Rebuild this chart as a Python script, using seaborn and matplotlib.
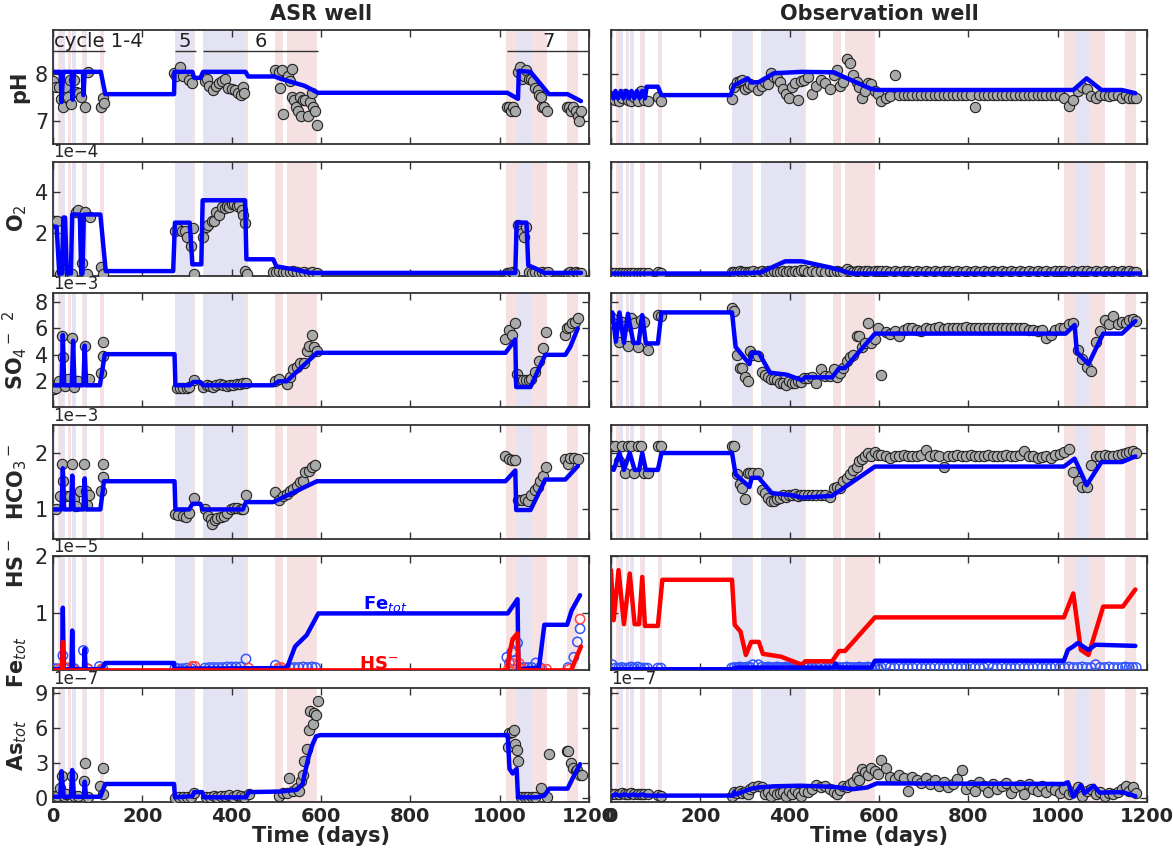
import numpy as np
import matplotlib
matplotlib.use("Agg")
import matplotlib.pyplot as plt
import seaborn as sns

# ---------------- shading periods / cycles (days) ----------------
blue_start = [0, 18, 43, 71, 272, 335, 1038]
blue_end = [5, 27, 52, 77, 313, 430, 1070]
red_start = [12, 33, 64, 105, 313, 430, 496, 524, 1015, 1070, 1150]
red_end = [18, 41, 71, 115, 318, 437, 514, 591, 1038, 1107, 1176]
cycle_labels = ["cycle 1-4", "5", "6", "7"]
cycle_start = [0, 272, 336, 1017]
cycle_end = [117, 320, 593, 1200]

# ---------------- ASR well ----------------
asr_ph_t = [0, 17, 19, 23, 42, 44, 47, 67, 68, 71, 107, 117, 271, 272, 312, 316, 330, 336, 431, 437,
            496, 510, 563, 593, 1017, 1041, 1043, 1069, 1110, 1152, 1182]
asr_ph_v = [8.05, 8.05, 7.4, 8.05, 8.05, 7.45, 8.05, 8.05, 7.55, 8.05, 8.05, 7.57, 7.57, 8.05, 8.05, 7.92, 7.92, 8.05, 8.05, 7.95,
            7.95, 7.9, 7.75, 7.6, 7.6, 7.47, 8.07, 8.05, 7.57, 7.57, 7.42]
asr_ph_obs_t = [0, 6, 13, 17, 22, 26, 33, 37, 41, 48, 52, 59, 62, 72, 78, 108, 113, 115,
                270, 275, 285, 290, 305, 312,
                340, 345, 350, 358, 365, 372, 378, 385, 392, 400, 408, 415, 420, 425, 428,
                497, 505, 508, 513, 516, 525, 530, 534, 536, 540, 543, 548, 552, 555, 560, 565, 570, 575, 580, 583, 587, 590,
                1017, 1022, 1025, 1030, 1035, 1040, 1045, 1050, 1055, 1060, 1065, 1070, 1075, 1080, 1085, 1088, 1092, 1095, 1100, 1105,
                1150, 1155, 1160, 1165, 1170, 1175, 1178, 1182]
asr_ph_obs_v = [7.85, 7.73, 7.73, 7.47, 7.3, 7.72, 7.5, 7.88, 7.36, 7.88, 7.62, 7.6, 7.5, 7.3, 8.04, 7.3, 7.48, 7.38,
                8.03, 7.95, 8.15, 7.95, 7.88, 7.8,
                7.85, 7.9, 7.75, 7.65, 7.75, 7.8, 7.85, 7.9, 7.7, 7.68, 7.65, 7.6, 7.55, 7.72, 7.6,
                8.1, 8.05, 7.7, 8.08, 7.15, 7.95, 7.85, 8.12, 7.5, 7.45, 7.3, 7.2, 7.5, 7.1, 7.45, 7.45, 7.1, 7.4, 7.6, 7.3, 7.2, 6.9,
                7.3, 7.3, 7.2, 7.3, 7.2, 8.05, 8.15, 7.9, 7.95, 8.1, 7.9, 7.9, 7.85, 7.7, 7.65, 7.55, 7.5, 7.3, 7.3, 7.2,
                7.3, 7.3, 7.2, 7.3, 7.2, 7.1, 7.0, 7.2]

asr_o2_t = [0, 8, 14, 20, 23, 27, 31, 40, 43, 60, 63, 66, 69, 106, 118, 269, 273, 306, 312, 332, 335, 430, 433, 493,
            500, 540, 576, 1017, 1035, 1038, 1060, 1064, 1080, 1100, 1182]
asr_o2_v = [2.3, 2.3, 0.0, 0.0, 2.75, 2.75, 0.0, 0.0, 2.9, 2.9, 0.0, 0.0, 2.9, 2.9, 0.12, 0.12, 2.5, 2.5, 0.45, 0.45, 3.6, 3.6, 0.7, 0.7,
            0.35, 0.2, 0.03, 0.03, 0.03, 2.5, 2.5, 0.4, 0.25, 0.03, 0.03]
asr_o2_obs_t = [4, 8, 15, 22, 39, 43, 52, 56, 64, 71, 75, 82, 108, 112,
                273, 280, 288, 295, 299, 310, 314, 316,
                336, 342, 347, 355, 360, 366, 372, 378, 384, 389, 395, 400, 405, 411, 416, 422, 426, 430, 430, 434,
                493, 500, 507, 515, 522, 530, 538, 546, 555, 563, 572, 580, 590,
                1017, 1022, 1027, 1031, 1040, 1045, 1050, 1055, 1060, 1066, 1072, 1080, 1088, 1095, 1102, 1108,
                1152, 1158, 1164, 1170, 1176, 1182]
asr_o2_obs_v = [2.6, 2.6, 0.0, 0.0, 0.0, 0.0, 3.0, 3.1, 0.5, 3.0, 0.0, 2.8, 0.3, 0.0,
                2.1, 2.2, 2.1, 2.1, 1.8, 1.35, 2.25, 0.0,
                1.8, 2.3, 2.4, 2.6, 2.6, 3.0, 2.9, 3.25, 3.2, 3.3, 3.25, 3.4, 3.4, 3.3, 3.35, 3.1, 2.9, 2.5, 0.1, 0.0,
                0.05, 0.05, 0.1, 0.05, 0.08, 0.05, 0.1, 0.05, 0.03, 0.05, 0.03, 0.05, 0.03,
                0.03, 0.03, 0.05, 0.03, 2.4, 2.1, 2.0, 1.8, 2.3, 0.05, 0.03, 0.05, 0.03, 0.05, 0.03, 0.05,
                0.03, 0.05, 0.03, 0.05, 0.03, 0.03]

asr_so4_t = [0, 19, 22, 25, 42, 45, 48, 68, 71, 74, 105, 116, 272, 274, 306, 314, 330, 336, 493, 505,
             523, 591, 1013, 1035, 1037, 1069, 1102, 1147, 1158, 1175]
asr_so4_v = [1.7, 1.7, 5.5, 1.7, 1.7, 5.06, 1.7, 1.7, 4.7, 1.7, 1.7, 4.05, 4.05, 1.7, 1.7, 1.95, 1.95, 1.7, 1.7, 2.0,
             2.0, 4.15, 4.15, 5.16, 1.57, 1.57, 4.0, 4.0, 4.6, 6.0]
asr_so4_obs_t = [2, 7, 13, 21, 22, 26, 34, 43, 46, 51, 56, 71, 75, 81, 108, 111, 112,
                 277, 284, 292, 299, 305, 316,
                 336, 344, 351, 359, 366, 374, 381, 389, 396, 404, 411, 419, 426, 432,
                 497, 505, 523, 531, 538, 546, 553, 561, 568, 574, 579, 585, 591,
                 1013, 1020, 1028, 1035, 1039, 1044, 1052, 1059, 1065, 1071, 1080, 1087, 1096, 1104,
                 1146, 1151, 1156, 1162, 1168, 1176]
asr_so4_obs_v = [1.4, 1.5, 2.0, 5.4, 3.8, 1.65, 2.15, 5.25, 1.6, 2.0, 2.0, 4.7, 2.2, 2.2, 2.6, 3.9, 5.0,
                 1.5, 1.5, 1.5, 1.5, 1.6, 2.1,
                 1.6, 1.7, 1.65, 1.6, 1.7, 1.77, 1.7, 1.65, 1.7, 1.72, 1.77, 1.8, 1.85, 1.85,
                 2.0, 2.15, 1.77, 2.3, 2.9, 3.1, 3.4, 3.4, 4.3, 4.7, 5.5, 4.6, 4.3,
                 5.2, 5.9, 5.5, 6.4, 2.56, 2.1, 2.1, 2.1, 2.1, 2.2, 2.7, 3.5, 4.5, 5.75,
                 5.5, 6.0, 6.1, 6.4, 6.5, 6.8]

asr_hco3_t = [0, 19, 22, 25, 40, 43, 46, 68, 71, 74, 106, 114, 272, 274, 305, 312, 330, 335, 425, 432,
              493, 591, 1013, 1035, 1037, 1069, 1102, 1147, 1175]
asr_hco3_v = [1.0, 1.0, 1.73, 1.0, 1.0, 1.6, 1.0, 1.0, 1.55, 1.0, 1.0, 1.5, 1.5, 1.0, 1.0, 1.1, 1.1, 1.0, 1.0, 1.13,
              1.13, 1.5, 1.5, 1.69, 0.99, 0.99, 1.53, 1.53, 1.77]
asr_hco3_obs_t = [6, 15, 21, 22, 30, 39, 43, 46, 52, 60, 69, 73, 76, 81, 108, 111, 112,
                  273, 280, 290, 298, 305, 316,
                  340, 348, 353, 357, 363, 368, 375, 383, 390, 398, 405, 413, 420, 426, 432,
                  496, 505, 514, 523, 531, 538, 546, 552, 559, 564, 572, 579, 587,
                  1013, 1020, 1028, 1035, 1041, 1049, 1056, 1063, 1071, 1078, 1085, 1091, 1096, 1104,
                  1146, 1153, 1158, 1166, 1176]
asr_hco3_obs_v = [1.0, 1.23, 1.8, 1.5, 1.24, 1.24, 1.8, 1.18, 1.06, 1.33, 1.8, 1.33, 1.07, 1.25, 1.33, 1.57, 1.8,
                  0.92, 0.9, 0.88, 0.87, 0.94, 1.21,
                  1.0, 0.89, 0.83, 0.74, 0.81, 0.85, 0.87, 0.88, 0.94, 1.0, 1.02, 1.03, 1.0, 1.01, 1.25,
                  1.31, 1.17, 1.24, 1.28, 1.33, 1.37, 1.42, 1.49, 1.51, 1.67, 1.68, 1.76, 1.79,
                  1.94, 1.9, 1.88, 1.88, 1.16, 1.16, 1.18, 1.15, 1.25, 1.34, 1.4, 1.5, 1.6, 1.75,
                  1.9, 1.8, 1.92, 1.92, 1.9]

asr_fe_t = [0, 20, 22, 24, 41, 43, 45, 69, 71, 73, 108, 117, 271, 272, 511, 524, 542, 568, 594, 1018,
            1040, 1042, 1088, 1100, 1151, 1161, 1180]
asr_fe_v = [0.02, 0.02, 1.1, 0.02, 0.02, 0.7, 0.02, 0.02, 0.38, 0.02, 0.02, 0.13, 0.13, 0.03, 0.04, 0.05, 0.42, 0.62, 1.0, 1.0,
            1.25, 0.02, 0.05, 0.8, 0.8, 1.05, 1.32]
asr_hs_t = [0, 20, 22, 24, 1017, 1022, 1029, 1040, 1043, 1160, 1182]
asr_hs_v = [0.0, 0.0, 0.5, 0.0, 0.0, 0.3, 0.55, 0.65, 0.0, 0.0, 0.42]
asr_fe_obs_t = [3, 10, 22, 26, 35, 48, 68, 78, 104, 112, 273, 280, 290, 300, 310, 340, 350, 360, 370, 380,
                390, 400, 410, 420, 432, 498, 530, 540, 550, 560, 570, 580, 588, 1016, 1022, 1027, 1031, 1040, 1048, 1056,
                1064, 1072, 1081, 1090, 1153, 1166, 1174, 1180]
asr_fe_obs_v = [0.03, 0.03, 0.26, 0.03, 0.04, 0.03, 0.35, 0.03, 0.07, 0.03, 0.04, 0.03, 0.03, 0.04, 0.03, 0.04, 0.05, 0.05, 0.05, 0.05,
                0.06, 0.06, 0.06, 0.06, 0.2, 0.09, 0.05, 0.05, 0.05, 0.06, 0.05, 0.06, 0.05, 0.23, 0.13, 0.32, 0.17, 0.48, 0.05, 0.05,
                0.05, 0.05, 0.13, 0.05, 0.05, 0.23, 0.5, 0.73]
asr_hs_obs_t = [15, 26, 45, 78, 108, 312, 318, 438, 505, 511, 1020, 1031, 1044, 1050, 1095, 1105, 1155, 1180]
asr_hs_obs_v = [0.02, 0.06, 0.02, 0.02, 0.02, 0.07, 0.07, 0.04, 0.04, 0.05, 0.03, 0.12, 0.12, 0.02, 0.02, 0.02, 0.02, 0.9]

asr_as_t = [0, 16, 19, 24, 40, 43, 47, 69, 71, 74, 106, 117, 271, 273, 312, 316, 334, 338, 432, 438,
            511, 546, 559, 563, 572, 581, 589, 598, 1018, 1022, 1029, 1038, 1041, 1083, 1100, 1111, 1152, 1170, 1180]
asr_as_v = [0.1, 0.1, 2.3, 0.1, 0.1, 2.4, 0.1, 0.1, 1.4, 0.1, 0.1, 1.2, 1.2, 0.05, 0.15, 0.5, 0.5, 0.05, 0.05, 0.5,
            0.55, 0.7, 1.2, 2.0, 3.5, 4.6, 5.3, 5.4, 5.4, 2.5, 2.1, 2.5, 0.05, 0.05, 0.2, 0.8, 0.8, 2.2, 2.9]
asr_as_obs_t = [0, 9, 16, 19, 24, 30, 42, 48, 57, 69, 71, 78, 106, 111, 113,
                273, 282, 290, 299, 308, 316,
                342, 351, 360, 368, 377, 385, 394, 403, 412, 420, 428, 438,
                507, 516, 524, 529, 537, 546, 550, 555, 559, 563, 568, 572, 576, 581, 585, 589, 594,
                1018, 1022, 1027, 1031, 1035, 1038, 1041, 1048, 1056, 1064, 1072, 1080, 1092, 1105, 1111,
                1151, 1154, 1159, 1165, 1170, 1174, 1180, 1185]
asr_as_obs_v = [0.15, 0.15, 0.85, 1.85, 0.15, 0.3, 1.85, 0.15, 0.15, 1.45, 3.0, 0.05, 1.0, 0.3, 2.6,
                0.0, 0.05, 0.1, 0.1, 0.05, 0.45,
                0.05, 0.1, 0.15, 0.1, 0.2, 0.15, 0.25, 0.1, 0.25, 0.15, 0.1, 0.3,
                0.2, 0.45, 0.4, 1.7, 0.6, 0.85, 0.6, 1.45, 2.0, 3.2, 4.2, 5.85, 7.5, 6.4, 7.3, 7.1, 8.3,
                4.4, 5.6, 5.7, 5.85, 4.6, 4.1, 3.2, 0.05, 0.05, 0.05, 0.05, 0.05, 0.85, 0.05, 3.8,
                4.0, 4.0, 3.0, 2.6, 2.3, 2.4, 2.0, 2.0]

# ---------------- Observation well ----------------
ow_days_early = [3, 10, 17, 24, 31, 38, 45, 52, 60, 67, 75, 82, 105, 112]
ow_days_mid = [270, 276, 282, 288, 294, 300, 306, 312, 318, 330, 338, 345, 352, 358, 365, 372, 378, 385, 392, 398,
               405, 412, 418, 425, 432, 440, 450, 460, 470, 480, 490, 500, 506, 512, 520, 528, 535, 542, 550, 556,
               562, 568, 575, 582, 590, 598]
ow_days_late = [605, 615, 625, 635, 645, 655, 665, 675, 685, 695, 705, 715, 725, 735, 745, 755, 765, 775, 785, 795,
                805, 815, 825, 835, 845, 855, 865, 875, 885, 895, 905, 915, 925, 935, 945, 955, 965, 975, 985, 995,
                1005, 1015, 1025, 1035, 1045, 1055, 1065, 1075, 1085, 1095, 1105, 1115, 1125, 1135, 1145, 1152, 1160, 1168, 1176]

ow_ph_t = [0, 5, 10, 16, 22, 28, 34, 40, 46, 52, 58, 64, 70, 76, 80, 105, 113, 268, 276, 306,
           314, 331, 365, 427, 499, 524, 583, 600, 1035, 1065, 1098, 1144, 1174]
ow_ph_v = [7.6, 7.48, 7.64, 7.48, 7.64, 7.48, 7.64, 7.48, 7.64, 7.48, 7.64, 7.48, 7.64, 7.48, 7.73, 7.73, 7.55, 7.55, 7.76, 7.91,
           7.82, 7.83, 8.02, 8.05, 8.04, 7.93, 7.68, 7.66, 7.66, 7.91, 7.66, 7.66, 7.59]
ow_ph_early = [7.48, 7.45, 7.43, 7.48, 7.58, 7.45, 7.43, 7.51, 7.43, 7.63, 7.45, 7.43, 7.5, 7.43]
ow_ph_mid = [7.46, 7.73, 7.83, 7.85, 7.88, 7.68, 7.73, 7.78, 7.75, 7.65,
             7.75, 7.83, 7.78, 8.03, 7.93, 7.91, 7.83, 7.68, 7.58, 7.48,
             7.73, 7.81, 7.45, 7.85, 7.88, 7.93, 7.58, 7.75, 7.88, 7.81,
             7.68, 7.98, 8.08, 7.75, 7.83, 8.33, 8.23, 7.98, 7.83, 7.73,
             7.48, 7.63, 7.81, 7.78, 7.63, 7.58]
ow_ph_late = [7.43, 7.48, 7.53, 7.98, 7.55, 7.55, 7.56, 7.55, 7.55, 7.56,
              7.55, 7.55, 7.55, 7.55, 7.56, 7.55, 7.55, 7.55, 7.56, 7.55,
              7.55, 7.30, 7.55, 7.55, 7.56, 7.55, 7.55, 7.55, 7.56, 7.55,
              7.55, 7.55, 7.55, 7.56, 7.55, 7.55, 7.55, 7.56, 7.55, 7.55,
              7.55, 7.48, 7.31, 7.45, 7.63, 7.73, 7.68, 7.53, 7.48, 7.55,
              7.55, 7.53, 7.55, 7.55, 7.48, 7.55, 7.48, 7.48, 7.48]

ow_o2_t = [0, 268, 335, 390, 427, 490, 540, 1185]
ow_o2_v = [0.0, 0.0, 0.05, 0.6, 0.6, 0.3, 0.0, 0.0]
ow_o2_early = [0.03, 0.03, 0.04, 0.03, 0.03, 0.04, 0.03, 0.03, 0.03, 0.04, 0.03, 0.03, 0.05, 0.04]
ow_o2_mid = [0.05, 0.08, 0.06, 0.1, 0.07, 0.05, 0.08, 0.06, 0.1, 0.05,
             0.12, 0.08, 0.1, 0.06, 0.12, 0.08, 0.05, 0.1, 0.08, 0.12,
             0.07, 0.1, 0.06, 0.15, 0.18, 0.08, 0.12, 0.06, 0.1, 0.08,
             0.12, 0.06, 0.1, 0.08, 0.05, 0.22, 0.1, 0.08, 0.12, 0.1,
             0.08, 0.12, 0.1, 0.08, 0.1, 0.12]
ow_o2_late = [0.1, 0.12, 0.08, 0.1, 0.09, 0.11, 0.1, 0.08, 0.1, 0.09,
              0.1, 0.08, 0.1, 0.09, 0.1, 0.11, 0.08, 0.1, 0.09, 0.1,
              0.08, 0.1, 0.09, 0.1, 0.08, 0.1, 0.09, 0.1, 0.08, 0.1,
              0.09, 0.1, 0.08, 0.1, 0.09, 0.1, 0.08, 0.1, 0.09, 0.1,
              0.1, 0.12, 0.09, 0.1, 0.08, 0.12, 0.1, 0.09, 0.1, 0.08,
              0.1, 0.09, 0.1, 0.08, 0.1, 0.09, 0.1, 0.08, 0.05]

ow_so4_t = [0, 3, 11, 19, 29, 38, 50, 62, 70, 78, 105, 113, 271, 279, 310, 315, 331, 356, 394, 427,
            435, 495, 511, 524, 591, 1018, 1038, 1043, 1069, 1102, 1144, 1174]
ow_so4_v = [6.5, 7.2, 5.0, 7.2, 4.9, 7.1, 4.9, 4.9, 7.0, 4.86, 4.86, 7.2, 7.2, 4.6, 3.3, 4.15, 4.15, 2.65, 2.5, 2.08,
            2.3, 2.3, 3.0, 3.0, 5.6, 5.6, 6.25, 4.2, 3.3, 5.6, 5.6, 6.55]
ow_so4_early = [6.8, 6.3, 5.0, 6.5, 6.2, 4.7, 6.8, 6.4, 4.6, 6.6, 6.5, 4.4, 7.0, 6.9]
ow_so4_mid = [7.5, 7.3, 4.0, 3.0, 3.0, 2.35, 2.05, 4.3, 4.0, 3.9,
              2.7, 2.5, 2.3, 2.2, 2.2, 2.1, 1.9, 1.85, 1.75, 2.0,
              1.9, 1.85, 2.0, 1.95, 2.25, 2.25, 2.35, 1.9, 2.95, 2.4,
              2.4, 2.9, 2.3, 2.6, 3.0, 3.5, 3.8, 4.0, 5.4, 5.4,
              4.6, 4.9, 6.4, 4.9, 5.2, 6.05]
ow_so4_late = [2.45, 5.7, 5.6, 5.8, 5.4, 5.9, 6.0, 6.0, 5.9, 5.8,
               6.05, 5.95, 6.0, 6.1, 5.95, 6.05, 6.0, 6.05, 6.0, 6.1,
               6.0, 6.05, 6.0, 6.05, 6.0, 6.0, 6.05, 6.0, 6.05, 6.0,
               6.0, 6.05, 6.0, 5.85, 5.9, 5.8, 5.85, 5.3, 5.5, 5.85,
               6.0, 6.0, 6.3, 6.4, 4.35, 3.7, 3.1, 2.8, 5.0, 5.8,
               6.6, 6.3, 6.9, 6.3, 6.5, 6.4, 6.6, 6.7, 6.55]

ow_hco3_t = [0, 6, 19, 29, 42, 53, 63, 70, 78, 105, 113, 271, 279, 310, 315, 331, 360, 407, 428, 495,
             591, 1014, 1038, 1065, 1098, 1144, 1174]
ow_hco3_v = [1.75, 1.7, 2.0, 1.7, 2.0, 1.7, 1.7, 2.0, 1.7, 1.7, 2.0, 2.0, 1.62, 1.4, 1.56, 1.56, 1.29, 1.25, 1.21, 1.24,
             1.76, 1.76, 1.9, 1.43, 1.84, 1.84, 1.94]
ow_hco3_early = [2.12, 2.12, 1.85, 2.12, 1.64, 2.12, 2.12, 1.65, 2.12, 2.12, 1.65, 1.64, 2.12, 2.12]
ow_hco3_mid = [2.12, 2.12, 1.62, 1.45, 1.38, 1.19, 1.65, 1.65, 1.65, 1.65,
               1.35, 1.3, 1.2, 1.15, 1.15, 1.18, 1.2, 1.25, 1.22, 1.25,
               1.25, 1.27, 1.24, 1.25, 1.25, 1.26, 1.25, 1.25, 1.26, 1.25,
               1.22, 1.38, 1.4, 1.38, 1.5, 1.55, 1.62, 1.7, 1.75, 1.85,
               1.9, 1.95, 2.0, 1.95, 2.02, 1.96]
ow_hco3_late = [1.96, 1.94, 1.92, 1.94, 1.95, 1.96, 1.94, 1.95, 1.94, 1.96,
                2.05, 1.95, 1.96, 1.95, 1.75, 1.94, 1.95, 1.96, 1.94, 1.95,
                1.96, 1.95, 1.94, 1.95, 1.96, 1.95, 1.94, 1.95, 1.96, 1.95,
                1.95, 1.96, 2.04, 1.95, 1.94, 1.92, 1.93, 1.94, 1.92, 1.96,
                1.98, 2.02, 2.08, 1.66, 1.50, 1.40, 1.40, 1.78, 1.94, 1.95,
                1.96, 1.95, 1.94, 1.96, 1.98, 2.00, 2.02, 2.04, 2.00]

ow_fe_t = [0, 271, 280, 499, 503, 507, 583, 591, 1014, 1023, 1035, 1045, 1069, 1085, 1174]
ow_fe_v = [0.02, 0.02, 0.05, 0.05, 0.12, 0.05, 0.05, 0.17, 0.17, 0.36, 0.42, 0.48, 0.36, 0.45, 0.43]
ow_hs_t = [0, 6, 17, 29, 42, 53, 63, 70, 76, 105, 115, 271, 277, 290, 302, 314, 331, 340, 381, 427,
           435, 495, 511, 524, 591, 1014, 1035, 1052, 1069, 1102, 1146, 1174]
ow_hs_v = [1.76, 0.88, 1.76, 0.81, 1.70, 0.81, 0.81, 1.64, 0.78, 0.78, 1.59, 1.59, 0.8, 0.68, 0.27, 0.5, 0.5, 0.29, 0.24, 0.1,
           0.16, 0.16, 0.34, 0.34, 0.93, 0.93, 1.35, 0.36, 0.27, 1.12, 1.12, 1.42]
ow_fe_early = [0.1, 0.04, 0.04, 0.05, 0.04, 0.04, 0.06, 0.04, 0.06, 0.04, 0.04, 0.04, 0.04, 0.04]
ow_fe_mid = [0.04, 0.05, 0.05, 0.06, 0.05, 0.05, 0.06, 0.05, 0.1, 0.1,
             0.06, 0.05, 0.06, 0.05, 0.05, 0.06, 0.05, 0.05, 0.06, 0.05,
             0.05, 0.06, 0.05, 0.05, 0.06, 0.05, 0.05, 0.05, 0.06, 0.05,
             0.05, 0.06, 0.05, 0.05, 0.05, 0.06, 0.05, 0.05, 0.05, 0.06,
             0.05, 0.05, 0.06, 0.05, 0.05, 0.05]
ow_fe_late = [0.05, 0.1, 0.05, 0.05, 0.06, 0.05, 0.05, 0.05, 0.06, 0.05,
              0.05, 0.05, 0.06, 0.05, 0.05, 0.05, 0.06, 0.05, 0.05, 0.05,
              0.06, 0.05, 0.05, 0.05, 0.1, 0.05, 0.05, 0.06, 0.05, 0.05,
              0.05, 0.06, 0.05, 0.05, 0.05, 0.06, 0.05, 0.05, 0.05, 0.06,
              0.05, 0.05, 0.06, 0.05, 0.05, 0.06, 0.05, 0.05, 0.1, 0.05,
              0.05, 0.06, 0.05, 0.05, 0.05, 0.06, 0.05, 0.05, 0.05]

ow_as_t = [0, 10, 20, 30, 40, 50, 60, 70, 80, 100, 268, 272, 276, 280, 314, 331, 365, 423, 499, 541,
           574, 595, 1014, 1023, 1035, 1052, 1060, 1081, 1094, 1144, 1174]
ow_as_v = [0.15, 0.3, 0.2, 0.3, 0.2, 0.3, 0.2, 0.3, 0.2, 0.2, 0.2, 0.2, 0.5, 0.3, 0.8, 0.9, 1.0, 1.05, 0.95, 0.75,
           0.9, 1.25, 1.2, 1.35, 0.1, 1.1, 0.4, 1.05, 0.45, 0.5, 0.15]
ow_as_early = [0.3, 0.35, 0.3, 0.4, 0.3, 0.35, 0.4, 0.3, 0.35, 0.3, 0.3, 0.3, 0.25, 0.2]
ow_as_mid = [0.2, 0.5, 0.4, 0.6, 0.4, 0.5, 0.3, 0.8, 0.9, 1.0,
             0.9, 0.3, 0.5, 0.2, 0.6, 0.3, 0.4, 0.5, 0.2, 0.6,
             0.3, 0.7, 0.4, 0.2, 0.6, 0.5, 0.8, 1.1, 0.9, 1.0,
             0.8, 0.5, 0.3, 0.7, 1.0, 0.9, 1.2, 1.4, 1.8, 1.5,
             2.5, 2.2, 2.0, 2.6, 2.3, 2.1]
ow_as_late = [3.3, 2.6, 1.8, 1.6, 2.0, 1.7, 0.6, 1.8, 1.5, 1.3,
              1.7, 1.2, 1.5, 1.0, 1.4, 0.9, 1.2, 1.6, 2.4, 0.8,
              1.1, 0.6, 1.4, 1.0, 0.5, 1.2, 0.8, 1.0, 1.3, 0.4,
              0.9, 1.1, 0.3, 1.2, 0.8, 0.6, 1.0, 0.5, 0.9, 0.7,
              0.4, 0.8, 0.3, 0.5, 0.9, 0.2, 0.6, 0.8, 0.3, 0.5,
              0.2, 0.4, 0.3, 0.5, 0.8, 1.0, 0.6, 0.9, 0.4]

row_scale = [1.0, 1e-4, 1e-3, 1e-3, 1e-5, 1e-7]
row_ylabels = ["pH", "O$_2$", "SO$_4$$^-$ $^2$", "HCO$_3$$^-$", "Fe$_{tot}$       HS$^-$", "As$_{tot}$"]
row_yticks = [[7, 8], [2, 4], [2, 4, 6, 8], [1, 2], [1, 2], [0, 3, 6, 9]]
row_ylim = [(6.5, 8.95), (-0.1, 5.5), (0.05, 8.65), (0.48, 2.5), (0.0, 2.0), (-0.35, 9.45)]
x_ticks = [0, 200, 400, 600, 800, 1000, 1200]

# ---------------- style ----------------
sns.set_theme(style="white")
plt.rcParams.update({
    "font.family": ["DejaVu Sans"],
    "xtick.direction": "in", "ytick.direction": "in",
    "xtick.top": True, "ytick.right": True,
    "xtick.bottom": True, "ytick.left": True,
    "xtick.major.size": 5, "ytick.major.size": 5,
    "xtick.major.width": 1.0, "ytick.major.width": 1.0,
    "axes.edgecolor": "#333333", "axes.linewidth": 1.3,
    "xtick.labelsize": 14, "ytick.labelsize": 15,
})

BLUE = "#0000ff"
RED = "#ff0000"
BAND_BLUE = "#e3e3f3"
BAND_RED = "#f5e1e1"

fig, axes = plt.subplots(6, 2, figsize=(11.73, 8.52), dpi=100, sharex=True, sharey="row")
fig.subplots_adjust(left=0.0452, right=0.9778, top=0.9648, bottom=0.0587, wspace=0.041, hspace=0.155)


def arr(values, scale):
    return np.asarray(values, dtype=float) * scale


def draw_line(ax, t, v, scale, color=BLUE):
    sns.lineplot(x=np.asarray(t, dtype=float), y=arr(v, scale), ax=ax, color=color, lw=3.2,
                 sort=False, estimator=None, zorder=4)


def draw_obs(ax, t, v, scale):
    sns.scatterplot(x=np.asarray(t, dtype=float), y=arr(v, scale), ax=ax, s=55, color="#a9a9a9",
                    edgecolor="#222222", linewidth=0.8, zorder=3, legend=False)


def draw_open(ax, t, v, scale, color):
    sns.scatterplot(x=np.asarray(t, dtype=float), y=arr(v, scale), ax=ax, s=45, facecolor="none",
                    edgecolor=color, linewidth=1.1, zorder=3, legend=False)


ow_days = ow_days_early + ow_days_mid + ow_days_late

for r in range(6):
    for c in range(2):
        ax = axes[r, c]
        for s, e in zip(blue_start, blue_end):
            ax.axvspan(s, e, color=BAND_BLUE, lw=0, zorder=0)
        for s, e in zip(red_start, red_end):
            ax.axvspan(s, e, color=BAND_RED, lw=0, zorder=0)

# ASR well
draw_obs(axes[0, 0], asr_ph_obs_t, asr_ph_obs_v, 1.0)
draw_line(axes[0, 0], asr_ph_t, asr_ph_v, 1.0)
draw_obs(axes[1, 0], asr_o2_obs_t, asr_o2_obs_v, 1e-4)
draw_line(axes[1, 0], asr_o2_t, asr_o2_v, 1e-4)
draw_obs(axes[2, 0], asr_so4_obs_t, asr_so4_obs_v, 1e-3)
draw_line(axes[2, 0], asr_so4_t, asr_so4_v, 1e-3)
draw_obs(axes[3, 0], asr_hco3_obs_t, asr_hco3_obs_v, 1e-3)
draw_line(axes[3, 0], asr_hco3_t, asr_hco3_v, 1e-3)
draw_open(axes[4, 0], asr_fe_obs_t, asr_fe_obs_v, 1e-5, "#3355ff")
draw_open(axes[4, 0], asr_hs_obs_t, asr_hs_obs_v, 1e-5, "#ff4444")
draw_line(axes[4, 0], asr_fe_t, asr_fe_v, 1e-5, BLUE)
draw_line(axes[4, 0], asr_hs_t, asr_hs_v, 1e-5, RED)
draw_obs(axes[5, 0], asr_as_obs_t, asr_as_obs_v, 1e-7)
draw_line(axes[5, 0], asr_as_t, asr_as_v, 1e-7)

# Observation well
draw_obs(axes[0, 1], ow_days, ow_ph_early + ow_ph_mid + ow_ph_late, 1.0)
draw_line(axes[0, 1], ow_ph_t, ow_ph_v, 1.0)
draw_obs(axes[1, 1], ow_days, ow_o2_early + ow_o2_mid + ow_o2_late, 1e-4)
draw_line(axes[1, 1], ow_o2_t, ow_o2_v, 1e-4)
draw_obs(axes[2, 1], ow_days, ow_so4_early + ow_so4_mid + ow_so4_late, 1e-3)
draw_line(axes[2, 1], ow_so4_t, ow_so4_v, 1e-3)
draw_obs(axes[3, 1], ow_days, ow_hco3_early + ow_hco3_mid + ow_hco3_late, 1e-3)
draw_line(axes[3, 1], ow_hco3_t, ow_hco3_v, 1e-3)
draw_open(axes[4, 1], ow_days, ow_fe_early + ow_fe_mid + ow_fe_late, 1e-5, "#3355ff")
draw_line(axes[4, 1], ow_hs_t, ow_hs_v, 1e-5, RED)
draw_line(axes[4, 1], ow_fe_t, ow_fe_v, 1e-5, BLUE)
draw_obs(axes[5, 1], ow_days, ow_as_early + ow_as_mid + ow_as_late, 1e-7)
draw_line(axes[5, 1], ow_as_t, ow_as_v, 1e-7)

# cycle annotation on ASR pH
ax0 = axes[0, 0]
ax0.hlines([8.49] * len(cycle_start), cycle_start, cycle_end, color="#333333", lw=1.0, zorder=5)
for i, (lab, s, e) in enumerate(zip(cycle_labels, cycle_start, cycle_end)):
    if i == 0:
        ax0.text(s + 2, 8.7, lab, ha="left", va="center", fontsize=14, color="#222222")
    else:
        ax0.text((s + e) / 2, 8.7, lab, ha="center", va="center", fontsize=14, color="#222222")

axes[4, 0].text(745, 1.17e-5, "Fe$_{tot}$", color=BLUE, fontsize=13, fontweight="bold", ha="center", va="center")
axes[4, 0].text(730, 0.12e-5, "HS$^{-}$", color=RED, fontsize=13, fontweight="bold", ha="center", va="center")

for r in range(6):
    sc = row_scale[r]
    for c in range(2):
        ax = axes[r, c]
        ax.set_xlim(0, 1200)
        ax.set_ylim(row_ylim[r][0] * sc, row_ylim[r][1] * sc)
        ax.set_yticks([t * sc for t in row_yticks[r]])
        ax.set_xticks(x_ticks)
        ax.set_xlabel("")
        ax.set_ylabel("")
        if r > 0:
            ax.ticklabel_format(axis="y", style="sci", scilimits=(0, 0))
            ax.yaxis.get_offset_text().set_fontsize(12)
        ax.tick_params(axis="both", which="both", direction="in", top=True, right=True,
                       bottom=True, left=True, length=5, color="#333333")
        for sp in ax.spines.values():
            sp.set_visible(True)
            sp.set_color("#333333")
        if c == 1:
            ax.tick_params(labelleft=False)
            ax.yaxis.get_offset_text().set_visible(r == 5)
        else:
            ax.set_ylabel(row_ylabels[r], fontsize=15, fontweight="bold")
        if r == 5:
            ax.set_xlabel("Time (days)", fontsize=15, fontweight="bold", labelpad=0)
            for lab in ax.get_xticklabels():
                lab.set_fontweight("bold")
                lab.set_fontsize(14)

axes[0, 0].set_title("ASR well", fontsize=15, fontweight="bold", pad=7)
axes[0, 1].set_title("Observation well", fontsize=15, fontweight="bold", pad=7)
fig.align_ylabels(axes[:, 0])

fig.savefig("out.png", dpi=100)
